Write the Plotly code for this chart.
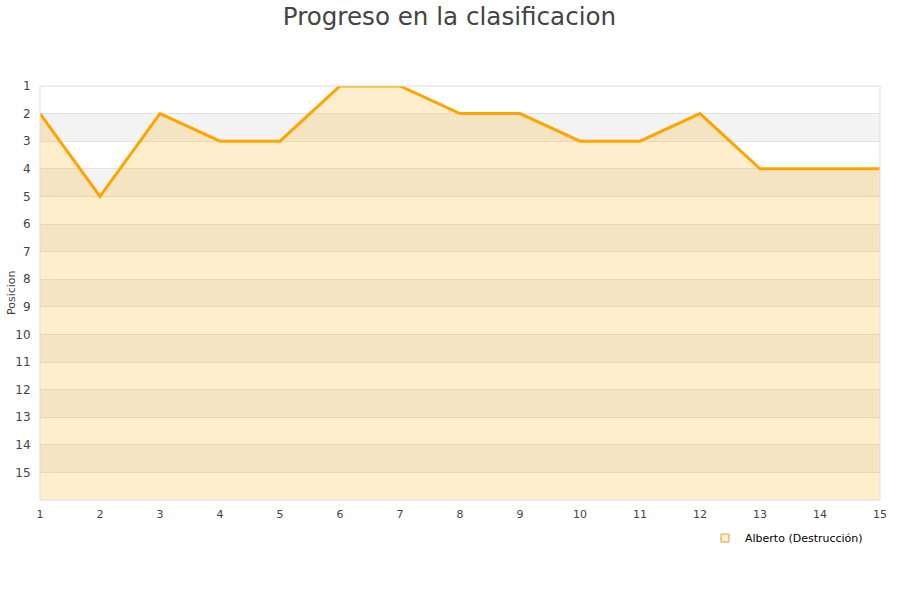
import plotly.graph_objects as go

jornadas = list(range(1, 16))
posicion = [2, 5, 2, 3, 3, 1, 1, 2, 2, 3, 3, 2, 4, 4, 4]
serie = "Alberto (Destrucción)"
titulo = "Progreso en la clasificacion"
y_ticks = list(range(1, 16))
y_bottom = 16

fig = go.Figure()
fig.add_trace(go.Scatter(x=jornadas, y=[y_bottom] * len(jornadas), mode="lines",
                         line=dict(width=0), showlegend=False, hoverinfo="skip"))
fig.add_trace(go.Scatter(x=jornadas, y=posicion, mode="lines", fill="tonexty",
                         fillcolor="rgba(255,170,0,0.2)",
                         line=dict(color="#ffa500", width=3), showlegend=False, name=serie))
fig.add_trace(go.Scatter(x=[None], y=[None], mode="markers", name=serie,
                         marker=dict(symbol="square", size=8, color="#ffedcc",
                                     line=dict(color="#d9a441", width=1))))

shapes = []
for k in range(2, 16, 2):
    shapes.append(dict(type="rect", xref="paper", yref="y", x0=0, x1=1, y0=k, y1=k + 1,
                       fillcolor="#f3f3f3", line=dict(width=0), layer="below"))
shapes.append(dict(type="rect", xref="paper", yref="paper", x0=0, x1=1, y0=0, y1=1,
                   line=dict(color="#dcdcdc", width=1), layer="above"))
fig.update_layout(shapes=shapes)

fig.add_annotation(text="Posicion", xref="paper", yref="paper", x=-0.0345, y=0.5,
                   xanchor="center", yanchor="middle", textangle=-90, showarrow=False,
                   font=dict(family="DejaVu Sans", size=11, color="#444444"))

fig.update_layout(
    width=900, height=600,
    paper_bgcolor="white", plot_bgcolor="white",
    margin=dict(l=40, r=20, t=86, b=100, autoexpand=False),
    title=dict(text=titulo, x=0.4994, xanchor="center", xref="container",
               y=1 - 16 / 600, yref="container", yanchor="middle",
               font=dict(family="DejaVu Sans", size=24.6, color="#444444")),
    font=dict(family="DejaVu Sans", size=11, color="#444444"),
    xaxis=dict(range=[1, 15], tickvals=jornadas, showgrid=False, zeroline=False,
               ticks="outside", ticklen=4, tickcolor="rgba(0,0,0,0)",
               showline=False, automargin=False,
               tickfont=dict(size=11, color="#444444")),
    yaxis=dict(range=[y_bottom, 1], tickvals=y_ticks, showgrid=True, gridcolor="#e3e3e3",
               zeroline=False, ticks="outside", ticklen=6, tickcolor="rgba(0,0,0,0)",
               showline=False, automargin=False,
               tickfont=dict(size=12, color="#444444")),
    legend=dict(orientation="h", x=0.9857, xanchor="right", y=-0.092, yanchor="middle",
                font=dict(size=11, color="#000000"), bgcolor="rgba(0,0,0,0)"),
)

fig.write_html("out.html", config={"displayModeBar": False},
               post_script="document.body.style.margin='0';document.body.style.overflow='hidden';")
